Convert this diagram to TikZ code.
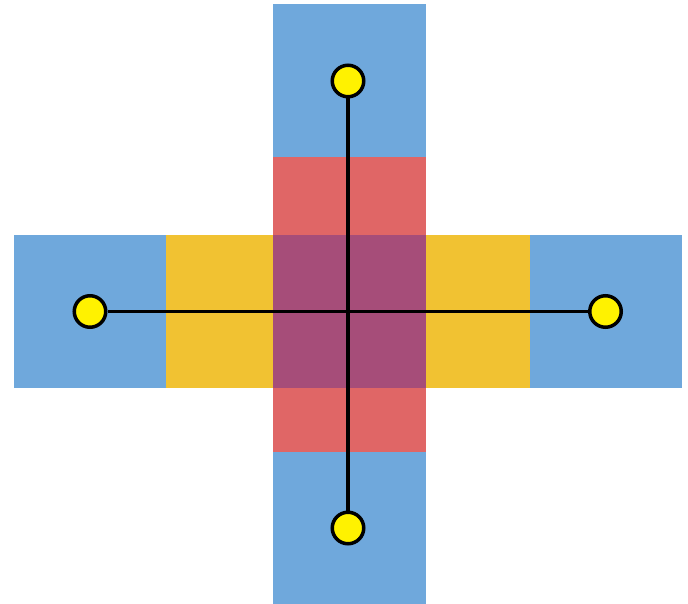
\documentclass[tikz,border=0pt]{standalone}
\definecolor{tileblue}{HTML}{6FA8DC}
\definecolor{tilered}{HTML}{E06666}
\definecolor{tileyellow}{HTML}{F1C232}
\definecolor{tilepurple}{HTML}{A64D79}
\tikzset{
  tile/.style={fill=#1, draw=none},
  endpt/.style={circle, draw=black, line width=3.5pt, fill=yellow,
    minimum size=31.5pt, inner sep=0pt},
  arm/.style={line width=3.5pt}
}
\begin{document}
\begin{tikzpicture}[x=1pt, y=-1pt]
  \useasboundingbox (0,0) rectangle (688,604);
  % blue end squares
  \fill[tile=tileblue] (273,4) rectangle (426,157);
  \fill[tile=tileblue] (273,452) rectangle (426,604);
  \fill[tile=tileblue] (14,235) rectangle (166,388);
  \fill[tile=tileblue] (530,235) rectangle (682,388);
  % red vertical band
  \fill[tile=tilered] (273,157) rectangle (426,452);
  % yellow horizontal band
  \fill[tile=tileyellow] (166,235) rectangle (273,388);
  \fill[tile=tileyellow] (426,235) rectangle (530,388);
  % overlap in the middle
  \fill[tile=tilepurple] (273,235) rectangle (426,388);
  % end points
  \node[endpt] (top) at (348,81) {};
  \node[endpt] (bottom) at (348,528) {};
  \node[endpt] (left) at (90,311.5) {};
  \node[endpt] (right) at (605.5,311.5) {};
  % arms
  \draw[arm] (top) -- (bottom);
  \draw[arm] (left) -- (right);
\end{tikzpicture}
\end{document}
